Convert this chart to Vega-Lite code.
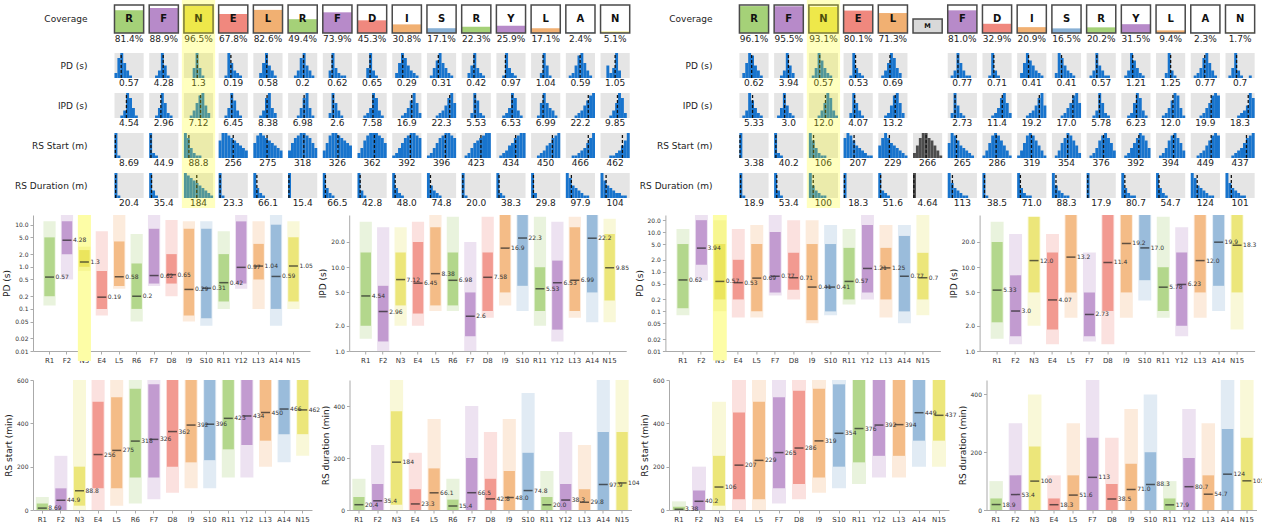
{
"$schema":"https://vega.github.io/schema/vega-lite/v6.json",
"padding":{"left":2,"top":0,"right":0,"bottom":0},
"config":{"font":"DejaVu Sans","view":{"stroke":null},
"axis":{"grid":false,"domainColor":"#aaa","tickColor":"#aaa","tickSize":3,"labelColor":"#333","labelFontSize":6,"titleFontSize":9,"titleFontWeight":"normal","titleColor":"#222","titlePadding":3,"labelPadding":2},
"axisX":{"labelFontSize":7,"labelAngle":0,"title":null}},
"datasets":{
"cov":[{"k":"a00","L":"R","cov":81.4,"p":"81.4%"},{"k":"a01","L":"F","cov":88.9,"p":"88.9%"},{"k":"a02","L":"N","cov":96.5,"p":"96.5%"},{"k":"a03","L":"E","cov":67.8,"p":"67.8%"},{"k":"a04","L":"L","cov":82.6,"p":"82.6%"},{"k":"a05","L":"R","cov":49.4,"p":"49.4%"},{"k":"a06","L":"F","cov":73.9,"p":"73.9%"},{"k":"a07","L":"D","cov":45.3,"p":"45.3%"},{"k":"a08","L":"I","cov":30.8,"p":"30.8%"},{"k":"a09","L":"S","cov":17.1,"p":"17.1%"},{"k":"a10","L":"R","cov":22.3,"p":"22.3%"},{"k":"a11","L":"Y","cov":25.9,"p":"25.9%"},{"k":"a12","L":"L","cov":17.1,"p":"17.1%"},{"k":"a13","L":"A","cov":2.4,"p":"2.4%"},{"k":"a14","L":"N","cov":5.1,"p":"5.1%"},
{"k":"b00","L":"R","cov":96.1,"p":"96.1%"},{"k":"b01","L":"F","cov":95.5,"p":"95.5%"},{"k":"b02","L":"N","cov":93.1,"p":"93.1%"},{"k":"b03","L":"E","cov":80.1,"p":"80.1%"},{"k":"b04","L":"L","cov":71.3,"p":"71.3%"},{"k":"b05","L":"M","cov":null,"p":""},{"k":"b06","L":"F","cov":81.0,"p":"81.0%"},{"k":"b07","L":"D","cov":32.9,"p":"32.9%"},{"k":"b08","L":"I","cov":20.9,"p":"20.9%"},{"k":"b09","L":"S","cov":16.5,"p":"16.5%"},{"k":"b10","L":"R","cov":20.2,"p":"20.2%"},{"k":"b11","L":"Y","cov":31.5,"p":"31.5%"},{"k":"b12","L":"L","cov":9.4,"p":"9.4%"},{"k":"b13","L":"A","cov":2.3,"p":"2.3%"},{"k":"b14","L":"N","cov":1.7,"p":"1.7%"}],
"hist":[
{"r":"PD","k":"a00","v":"0.57","m":2.3,"h":[2,8,10,6,3,1,0,0,0,0]},
{"r":"PD","k":"a01","v":"4.28","m":4.8,"h":[0,0,1,3,10,5,1,0,0,0]},
{"r":"PD","k":"a02","v":"1.3","m":4.6,"h":[0,0,0,4,10,4,1,0,0,0]},
{"r":"PD","k":"a03","v":"0.19","m":4.2,"h":[0,0,1,10,6,3,2,1,0,0]},
{"r":"PD","k":"a04","v":"0.58","m":4.6,"h":[0,0,2,6,10,5,3,1,0,0]},
{"r":"PD","k":"a05","v":"0.2","m":5.3,"h":[0,0,1,3,8,10,5,3,1,0]},
{"r":"PD","k":"a06","v":"0.62","m":3.2,"h":[0,0,3,10,4,2,1,1,0,0]},
{"r":"PD","k":"a07","v":"0.65","m":4.3,"h":[0,0,0,4,10,3,1,0,0,0]},
{"r":"PD","k":"a08","v":"0.29","m":3.6,"h":[0,2,6,10,8,5,3,2,1,0]},
{"r":"PD","k":"a09","v":"0.31","m":3.9,"h":[0,1,4,7,10,6,4,2,1,0]},
{"r":"PD","k":"a10","v":"0.42","m":4.2,"h":[0,0,2,5,10,4,2,1,0,0]},
{"r":"PD","k":"a11","v":"0.97","m":3.1,"h":[0,0,1,10,4,2,1,0,0,0]},
{"r":"PD","k":"a12","v":"1.04","m":4.1,"h":[0,0,0,2,10,5,1,0,0,0]},
{"r":"PD","k":"a13","v":"0.59","m":4.9,"h":[0,1,2,5,9,10,6,3,1,0]},
{"r":"PD","k":"a14","v":"1.05","m":5.0,"h":[0,0,5,2,4,10,3,0,0,0]},
{"r":"IPD","k":"a00","v":"4.54","m":4.1,"h":[0,0,1,3,10,8,4,1,0,0]},
{"r":"IPD","k":"a01","v":"2.96","m":4.0,"h":[0,0,1,4,10,6,2,1,0,0]},
{"r":"IPD","k":"a02","v":"7.12","m":5.7,"h":[0,0,1,3,6,9,10,5,2,0]},
{"r":"IPD","k":"a03","v":"6.45","m":4.5,"h":[0,0,1,4,10,7,3,1,0,0]},
{"r":"IPD","k":"a04","v":"8.38","m":4.7,"h":[0,0,1,3,8,10,4,2,0,0]},
{"r":"IPD","k":"a05","v":"6.98","m":5.5,"h":[0,0,0,1,4,8,10,4,1,0]},
{"r":"IPD","k":"a06","v":"2.6","m":3.6,"h":[0,0,2,10,6,3,1,0,0,0]},
{"r":"IPD","k":"a07","v":"7.58","m":5.3,"h":[0,0,1,2,4,10,8,3,1,0]},
{"r":"IPD","k":"a08","v":"16.9","m":6.7,"h":[0,0,0,1,2,4,7,10,6,2]},
{"r":"IPD","k":"a09","v":"22.3","m":7.8,"h":[0,0,0,1,2,3,5,8,10,6]},
{"r":"IPD","k":"a10","v":"5.53","m":4.6,"h":[0,0,0,2,10,7,2,1,0,0]},
{"r":"IPD","k":"a11","v":"6.53","m":5.4,"h":[0,0,1,2,4,10,8,3,1,0]},
{"r":"IPD","k":"a12","v":"6.99","m":4.1,"h":[0,0,1,6,10,6,4,3,1,0]},
{"r":"IPD","k":"a13","v":"22.2","m":7.7,"h":[0,0,0,1,2,3,5,7,9,10]},
{"r":"IPD","k":"a14","v":"9.85","m":5.8,"h":[0,0,0,1,3,6,10,8,2,0]},
{"r":"RSS","k":"a00","v":"8.69","m":0.3,"h":[10,1,0,0,0,0,0,0,0,0]},
{"r":"RSS","k":"a01","v":"44.9","m":0.6,"h":[10,2,1,0,0,0,0,0,0,0]},
{"r":"RSS","k":"a02","v":"88.8","m":1.7,"h":[10,8,4,2,1,1,0,0,0,0]},
{"r":"RSS","k":"a03","v":"256","m":5.0,"h":[7,10,10,9,8,7,6,5,4,3]},
{"r":"RSS","k":"a04","v":"275","m":4.7,"h":[6,9,10,9,8,7,6,5,4,3]},
{"r":"RSS","k":"a05","v":"318","m":5.4,"h":[3,6,8,9,10,10,9,8,6,4]},
{"r":"RSS","k":"a06","v":"326","m":5.2,"h":[3,6,9,10,10,9,8,7,6,5]},
{"r":"RSS","k":"a07","v":"362","m":5.8,"h":[2,4,7,9,10,10,10,9,8,6]},
{"r":"RSS","k":"a08","v":"392","m":6.2,"h":[1,2,4,6,8,9,10,10,9,8]},
{"r":"RSS","k":"a09","v":"396","m":6.3,"h":[1,2,4,6,8,9,10,10,9,8]},
{"r":"RSS","k":"a10","v":"423","m":6.6,"h":[0,1,2,4,6,7,8,9,10,10]},
{"r":"RSS","k":"a11","v":"434","m":6.6,"h":[0,1,2,3,5,6,8,9,10,10]},
{"r":"RSS","k":"a12","v":"450","m":7.3,"h":[0,0,1,2,3,5,6,8,9,10]},
{"r":"RSS","k":"a13","v":"466","m":7.7,"h":[0,0,1,1,2,3,4,6,8,10]},
{"r":"RSS","k":"a14","v":"462","m":7.5,"h":[0,0,0,1,1,2,3,5,7,10]},
{"r":"RSD","k":"a00","v":"20.4","m":0.4,"h":[10,1,0,0,0,0,0,0,0,0]},
{"r":"RSD","k":"a01","v":"35.4","m":0.8,"h":[10,3,1,0,0,0,0,0,0,0]},
{"r":"RSD","k":"a02","v":"184","m":4.4,"h":[10,9,8,7,6,5,4,3,2,1]},
{"r":"RSD","k":"a03","v":"23.3","m":0.5,"h":[10,1,0,0,0,0,0,0,0,0]},
{"r":"RSD","k":"a04","v":"66.1","m":1.2,"h":[10,4,2,1,0,0,0,0,0,0]},
{"r":"RSD","k":"a05","v":"15.4","m":0.3,"h":[10,0,0,0,0,0,0,0,0,0]},
{"r":"RSD","k":"a06","v":"66.5","m":0.9,"h":[10,4,2,1,0,0,0,0,0,0]},
{"r":"RSD","k":"a07","v":"42.8","m":0.9,"h":[10,3,1,0,0,0,0,0,0,0]},
{"r":"RSD","k":"a08","v":"48.0","m":1.0,"h":[10,4,2,1,0,0,0,0,0,0]},
{"r":"RSD","k":"a09","v":"74.8","m":1.2,"h":[10,5,3,2,1,0,0,0,0,0]},
{"r":"RSD","k":"a10","v":"20.0","m":0.4,"h":[10,1,0,0,0,0,0,0,0,0]},
{"r":"RSD","k":"a11","v":"38.3","m":0.9,"h":[10,2,1,0,0,0,0,0,0,0]},
{"r":"RSD","k":"a12","v":"29.8","m":0.8,"h":[10,2,0,0,0,0,0,0,0,0]},
{"r":"RSD","k":"a13","v":"97.9","m":1.9,"h":[10,8,5,4,3,2,1,1,0,0]},
{"r":"RSD","k":"a14","v":"104","m":1.9,"h":[10,7,5,4,3,2,2,1,1,0]},
{"r":"PD","k":"b00","v":"0.62","m":4.2,"h":[0,2,6,10,9,5,3,1,0,0]},
{"r":"PD","k":"b01","v":"3.94","m":4.9,"h":[0,0,1,3,10,5,2,0,0,0]},
{"r":"PD","k":"b02","v":"0.57","m":3.7,"h":[0,1,4,10,7,4,2,1,0,0]},
{"r":"PD","k":"b03","v":"0.53","m":4.1,"h":[0,0,1,10,4,2,1,0,0,0]},
{"r":"PD","k":"b04","v":"0.69","m":4.0,"h":[0,1,3,6,10,8,4,2,0,0]},
{"r":"PD","k":"b06","v":"0.77","m":3.5,"h":[0,1,3,10,6,3,1,1,0,0]},
{"r":"PD","k":"b07","v":"0.71","m":3.9,"h":[0,0,1,10,3,1,0,0,0,0]},
{"r":"PD","k":"b08","v":"0.41","m":3.9,"h":[0,2,6,10,7,5,3,2,1,0]},
{"r":"PD","k":"b09","v":"0.41","m":3.3,"h":[0,2,10,8,5,3,2,1,0,0]},
{"r":"PD","k":"b10","v":"0.57","m":3.5,"h":[0,1,3,10,5,3,1,1,0,0]},
{"r":"PD","k":"b11","v":"1.21","m":3.9,"h":[0,1,3,10,7,4,2,1,0,0]},
{"r":"PD","k":"b12","v":"1.25","m":5.0,"h":[0,0,0,2,10,3,1,0,0,0]},
{"r":"PD","k":"b13","v":"0.77","m":4.8,"h":[0,1,2,4,8,10,6,3,1,0]},
{"r":"PD","k":"b14","v":"0.7","m":3.8,"h":[0,1,4,10,3,1,0,0,1,0]},
{"r":"IPD","k":"b00","v":"5.33","m":4.5,"h":[0,1,3,10,7,4,2,1,0,0]},
{"r":"IPD","k":"b01","v":"3.0","m":3.6,"h":[0,1,4,10,5,2,1,0,0,0]},
{"r":"IPD","k":"b02","v":"12.0","m":5.7,"h":[0,0,0,1,3,6,10,8,3,1]},
{"r":"IPD","k":"b03","v":"4.07","m":3.8,"h":[0,0,2,10,6,3,1,0,0,0]},
{"r":"IPD","k":"b04","v":"13.2","m":5.8,"h":[0,0,1,2,5,9,10,6,2,0]},
{"r":"IPD","k":"b06","v":"2.73","m":2.5,"h":[0,2,10,5,2,1,0,0,0,0]},
{"r":"IPD","k":"b07","v":"11.4","m":6.8,"h":[0,0,0,1,2,4,8,10,6,2]},
{"r":"IPD","k":"b08","v":"19.2","m":7.6,"h":[0,0,0,1,2,3,5,8,10,5]},
{"r":"IPD","k":"b09","v":"17.0","m":7.2,"h":[0,0,0,1,2,4,6,9,10,6]},
{"r":"IPD","k":"b10","v":"5.78","m":4.4,"h":[0,0,1,3,10,6,2,1,0,0]},
{"r":"IPD","k":"b11","v":"6.23","m":5.2,"h":[0,0,1,2,6,10,8,3,1,0]},
{"r":"IPD","k":"b12","v":"12.0","m":5.8,"h":[0,0,1,2,4,7,10,9,4,1]},
{"r":"IPD","k":"b13","v":"19.9","m":7.0,"h":[0,0,0,1,2,4,6,9,10,9]},
{"r":"IPD","k":"b14","v":"18.3","m":7.8,"h":[0,0,0,0,1,2,3,5,10,8]},
{"r":"RSS","k":"b00","v":"3.38","m":0.2,"h":[10,0,0,0,0,0,0,0,0,0]},
{"r":"RSS","k":"b01","v":"40.2","m":0.6,"h":[10,2,1,0,0,0,0,0,0,0]},
{"r":"RSS","k":"b02","v":"106","m":1.6,"h":[10,7,4,2,1,1,0,0,0,0]},
{"r":"RSS","k":"b03","v":"207","m":3.6,"h":[8,10,9,7,5,4,3,2,1,1]},
{"r":"RSS","k":"b04","v":"229","m":3.8,"h":[5,8,10,8,6,5,4,3,2,1]},
{"r":"RSS","k":"b05","v":"266","m":4.5,"h":[2,5,8,10,10,8,7,5,3,1]},
{"r":"RSS","k":"b06","v":"265","m":3.0,"h":[6,10,9,7,5,4,3,2,1,0]},
{"r":"RSS","k":"b07","v":"286","m":4.7,"h":[1,3,6,9,10,9,7,5,3,1]},
{"r":"RSS","k":"b08","v":"319","m":4.9,"h":[1,3,6,9,10,9,7,5,3,1]},
{"r":"RSS","k":"b09","v":"354","m":5.4,"h":[0,1,3,6,8,10,9,7,5,2]},
{"r":"RSS","k":"b10","v":"376","m":5.8,"h":[0,1,2,4,7,9,10,8,6,3]},
{"r":"RSS","k":"b11","v":"392","m":6.0,"h":[0,1,2,4,6,8,10,9,7,4]},
{"r":"RSS","k":"b12","v":"394","m":6.0,"h":[0,1,2,4,7,9,10,8,6,3]},
{"r":"RSS","k":"b13","v":"449","m":7.0,"h":[0,0,1,2,3,5,7,9,10,9]},
{"r":"RSS","k":"b14","v":"437","m":7.2,"h":[0,0,1,2,3,4,6,8,9,10]},
{"r":"RSD","k":"b00","v":"18.9","m":0.4,"h":[10,1,0,0,0,0,0,0,0,0]},
{"r":"RSD","k":"b01","v":"53.4","m":0.9,"h":[10,3,1,0,0,0,0,0,0,0]},
{"r":"RSD","k":"b02","v":"100","m":1.5,"h":[10,5,3,2,1,1,0,0,0,0]},
{"r":"RSD","k":"b03","v":"18.3","m":0.3,"h":[10,0,0,0,0,0,0,0,0,0]},
{"r":"RSD","k":"b04","v":"51.6","m":0.8,"h":[10,3,2,1,0,0,0,0,0,0]},
{"r":"RSD","k":"b05","v":"4.64","m":0.3,"h":[10,0,0,0,0,0,0,0,0,0]},
{"r":"RSD","k":"b06","v":"113","m":1.6,"h":[10,6,4,3,2,1,1,0,0,0]},
{"r":"RSD","k":"b07","v":"38.5","m":0.7,"h":[10,1,0,0,0,0,0,0,0,0]},
{"r":"RSD","k":"b08","v":"71.0","m":1.1,"h":[10,4,2,1,1,0,0,0,0,0]},
{"r":"RSD","k":"b09","v":"88.3","m":1.4,"h":[10,5,3,2,1,1,0,0,0,0]},
{"r":"RSD","k":"b10","v":"17.9","m":0.4,"h":[10,0,0,0,0,0,0,0,0,0]},
{"r":"RSD","k":"b11","v":"80.7","m":1.2,"h":[10,4,2,1,1,0,0,0,0,0]},
{"r":"RSD","k":"b12","v":"54.7","m":1.0,"h":[10,4,2,1,0,0,0,0,0,0]},
{"r":"RSD","k":"b13","v":"124","m":2.2,"h":[10,8,5,4,3,2,1,1,0,0]},
{"r":"RSD","k":"b14","v":"101","m":2.0,"h":[10,6,4,3,2,1,1,0,0,0]}],
"labs":[{"r":"COV","k":"s1","lab":"Coverage"},{"r":"COV","k":"s4","lab":"Coverage"},{"r":"PD","k":"s1","lab":"PD (s)"},{"r":"PD","k":"s4","lab":"PD (s)"},{"r":"IPD","k":"s1","lab":"IPD (s)"},{"r":"IPD","k":"s4","lab":"IPD (s)"},{"r":"RSS","k":"s1","lab":"RS Start (m)"},{"r":"RSS","k":"s4","lab":"RS Start (m)"},{"r":"RSD","k":"s1","lab":"RS Duration (m)"},{"r":"RSD","k":"s4","lab":"RS Duration (m)"}],
"sPDL":[
{"c":"R1","L":"R","lo":0.12,"hi":12,"dlo":0.2,"dhi":5,"med":0.57,"v":"0.57"},
{"c":"F2","L":"F","lo":0.5,"hi":17,"dlo":2,"dhi":12,"med":4.28,"v":"4.28"},
{"c":"N3","L":"N","lo":0.8,"hi":3,"dlo":1.0,"dhi":2.5,"med":1.3,"v":"1.3"},
{"c":"E4","L":"E","lo":0.07,"hi":7,"dlo":0.1,"dhi":0.8,"med":0.19,"v":"0.19"},
{"c":"L5","L":"L","lo":0.3,"hi":17,"dlo":0.35,"dhi":4,"med":0.58,"v":"0.58"},
{"c":"R6","L":"R","lo":0.05,"hi":6,"dlo":0.1,"dhi":1.2,"med":0.2,"v":"0.2"},
{"c":"F7","L":"F","lo":0.35,"hi":17,"dlo":0.4,"dhi":8,"med":0.62,"v":"0.62"},
{"c":"D8","L":"D","lo":0.2,"hi":13,"dlo":0.4,"dhi":2,"med":0.65,"v":"0.65"},
{"c":"I9","L":"I","lo":0.05,"hi":12,"dlo":0.07,"dhi":8,"med":0.29,"v":"0.29"},
{"c":"S10","L":"S","lo":0.04,"hi":12,"dlo":0.06,"dhi":8,"med":0.31,"v":"0.31"},
{"c":"R11","L":"R","lo":0.1,"hi":7,"dlo":0.15,"dhi":2,"med":0.42,"v":"0.42"},
{"c":"Y12","L":"Y","lo":0.3,"hi":17,"dlo":0.4,"dhi":12,"med":0.97,"v":"0.97"},
{"c":"L13","L":"L","lo":0.1,"hi":12,"dlo":0.5,"dhi":3.5,"med":1.04,"v":"1.04"},
{"c":"A14","L":"A","lo":0.04,"hi":17,"dlo":0.1,"dhi":10,"med":0.59,"v":"0.59"},
{"c":"N15","L":"N","lo":0.1,"hi":12,"dlo":0.15,"dhi":5,"med":1.05,"v":"1.05"}],
"sIPDL":[
{"c":"R1","L":"R","lo":1.4,"hi":35,"dlo":2,"dhi":15,"med":4.54,"v":"4.54"},
{"c":"F2","L":"F","lo":1,"hi":30,"dlo":1.3,"dhi":6,"med":2.96,"v":"2.96"},
{"c":"N3","L":"N","lo":2,"hi":30,"dlo":3.5,"dhi":15,"med":7.12,"v":"7.12"},
{"c":"E4","L":"E","lo":2,"hi":35,"dlo":2.8,"dhi":20,"med":6.45,"v":"6.45"},
{"c":"L5","L":"L","lo":3,"hi":42,"dlo":3.5,"dhi":30,"med":8.38,"v":"8.38"},
{"c":"R6","L":"R","lo":3,"hi":40,"dlo":3.5,"dhi":15,"med":6.98,"v":"6.98"},
{"c":"F7","L":"F","lo":1,"hi":20,"dlo":1.5,"dhi":5,"med":2.6,"v":"2.6"},
{"c":"D8","L":"D","lo":2.5,"hi":40,"dlo":3,"dhi":15,"med":7.58,"v":"7.58"},
{"c":"I9","L":"I","lo":3.5,"hi":42,"dlo":5,"dhi":42,"med":16.9,"v":"16.9"},
{"c":"S10","L":"S","lo":3,"hi":42,"dlo":6,"dhi":42,"med":22.3,"v":"22.3"},
{"c":"R11","L":"R","lo":2,"hi":40,"dlo":3,"dhi":10,"med":5.53,"v":"5.53"},
{"c":"Y12","L":"Y","lo":1.3,"hi":35,"dlo":1.8,"dhi":12,"med":6.53,"v":"6.53"},
{"c":"L13","L":"L","lo":2.5,"hi":40,"dlo":3,"dhi":30,"med":6.99,"v":"6.99"},
{"c":"A14","L":"A","lo":2.2,"hi":42,"dlo":5,"dhi":42,"med":22.2,"v":"22.2"},
{"c":"N15","L":"N","lo":2.2,"hi":38,"dlo":4,"dhi":25,"med":9.85,"v":"9.85"}],
"sPDR":[
{"c":"R1","L":"R","lo":0.08,"hi":12,"dlo":0.12,"dhi":5,"med":0.62,"v":"0.62"},
{"c":"F2","L":"F","lo":0.6,"hi":27,"dlo":1.5,"dhi":20,"med":3.94,"v":"3.94"},
{"c":"N3","L":"N","lo":0.1,"hi":20,"dlo":0.2,"dhi":5,"med":0.57,"v":"0.57"},
{"c":"E4","L":"E","lo":0.07,"hi":12,"dlo":0.2,"dhi":2,"med":0.53,"v":"0.53"},
{"c":"L5","L":"L","lo":0.07,"hi":15,"dlo":0.1,"dhi":5,"med":0.69,"v":"0.69"},
{"c":"F7","L":"F","lo":0.25,"hi":27,"dlo":0.3,"dhi":10,"med":0.77,"v":"0.77"},
{"c":"D8","L":"D","lo":0.2,"hi":20,"dlo":0.35,"dhi":3,"med":0.71,"v":"0.71"},
{"c":"I9","L":"I","lo":0.05,"hi":20,"dlo":0.06,"dhi":5,"med":0.41,"v":"0.41"},
{"c":"S10","L":"S","lo":0.08,"hi":15,"dlo":0.1,"dhi":5,"med":0.41,"v":"0.41"},
{"c":"R11","L":"R","lo":0.15,"hi":12,"dlo":0.2,"dhi":4,"med":0.57,"v":"0.57"},
{"c":"Y12","L":"Y","lo":0.2,"hi":27,"dlo":0.3,"dhi":15,"med":1.21,"v":"1.21"},
{"c":"L13","L":"L","lo":0.07,"hi":15,"dlo":0.2,"dhi":4,"med":1.25,"v":"1.25"},
{"c":"A14","L":"A","lo":0.05,"hi":15,"dlo":0.1,"dhi":8,"med":0.77,"v":"0.77"},
{"c":"N15","L":"N","lo":0.08,"hi":27,"dlo":0.2,"dhi":3,"med":0.7,"v":"0.7"}],
"sIPDR":[
{"c":"R1","L":"R","lo":1.4,"hi":35,"dlo":2.2,"dhi":20,"med":5.33,"v":"5.33"},
{"c":"F2","L":"F","lo":1.2,"hi":25,"dlo":1.5,"dhi":8,"med":3.0,"v":"3.0"},
{"c":"N3","L":"N","lo":2,"hi":40,"dlo":5,"dhi":40,"med":12.0,"v":"12.0"},
{"c":"E4","L":"E","lo":1.2,"hi":25,"dlo":1.8,"dhi":15,"med":4.07,"v":"4.07"},
{"c":"L5","L":"L","lo":2.5,"hi":42,"dlo":5,"dhi":42,"med":13.2,"v":"13.2"},
{"c":"F7","L":"F","lo":1.3,"hi":15,"dlo":1.5,"dhi":5,"med":2.73,"v":"2.73"},
{"c":"D8","L":"D","lo":1.2,"hi":42,"dlo":3,"dhi":42,"med":11.4,"v":"11.4"},
{"c":"I9","L":"I","lo":2.5,"hi":42,"dlo":5,"dhi":42,"med":19.2,"v":"19.2"},
{"c":"S10","L":"S","lo":4,"hi":42,"dlo":7,"dhi":42,"med":17.0,"v":"17.0"},
{"c":"R11","L":"R","lo":2.5,"hi":40,"dlo":3,"dhi":10,"med":5.78,"v":"5.78"},
{"c":"Y12","L":"Y","lo":1.5,"hi":30,"dlo":2,"dhi":15,"med":6.23,"v":"6.23"},
{"c":"L13","L":"L","lo":2.5,"hi":42,"dlo":5,"dhi":42,"med":12.0,"v":"12.0"},
{"c":"A14","L":"A","lo":3,"hi":42,"dlo":6,"dhi":42,"med":19.9,"v":"19.9"},
{"c":"N15","L":"N","lo":1.8,"hi":42,"dlo":5,"dhi":42,"med":18.3,"v":"18.3"}],
"sRSSL":[
{"c":"R1","L":"R","lo":0,"hi":60,"dlo":0,"dhi":30,"med":8.69,"v":"8.69"},
{"c":"F2","L":"F","lo":0,"hi":250,"dlo":0,"dhi":100,"med":44.9,"v":"44.9"},
{"c":"N3","L":"N","lo":0,"hi":600,"dlo":20,"dhi":200,"med":88.8,"v":"88.8"},
{"c":"E4","L":"E","lo":0,"hi":600,"dlo":100,"dhi":500,"med":256,"v":"256"},
{"c":"L5","L":"L","lo":20,"hi":600,"dlo":100,"dhi":520,"med":275,"v":"275"},
{"c":"R6","L":"R","lo":30,"hi":600,"dlo":150,"dhi":560,"med":318,"v":"318"},
{"c":"F7","L":"F","lo":50,"hi":600,"dlo":150,"dhi":580,"med":326,"v":"326"},
{"c":"D8","L":"D","lo":80,"hi":600,"dlo":200,"dhi":600,"med":362,"v":"362"},
{"c":"I9","L":"I","lo":100,"hi":600,"dlo":220,"dhi":600,"med":392,"v":"392"},
{"c":"S10","L":"S","lo":100,"hi":600,"dlo":230,"dhi":600,"med":396,"v":"396"},
{"c":"R11","L":"R","lo":150,"hi":600,"dlo":280,"dhi":600,"med":423,"v":"423"},
{"c":"Y12","L":"Y","lo":150,"hi":600,"dlo":300,"dhi":600,"med":434,"v":"434"},
{"c":"L13","L":"L","lo":200,"hi":600,"dlo":320,"dhi":600,"med":450,"v":"450"},
{"c":"A14","L":"A","lo":220,"hi":600,"dlo":350,"dhi":600,"med":466,"v":"466"},
{"c":"N15","L":"N","lo":250,"hi":600,"dlo":350,"dhi":600,"med":462,"v":"462"}],
"sRSDL":[
{"c":"R1","L":"R","lo":0,"hi":120,"dlo":0,"dhi":50,"med":20.4,"v":"20.4"},
{"c":"F2","L":"F","lo":0,"hi":250,"dlo":0,"dhi":100,"med":35.4,"v":"35.4"},
{"c":"N3","L":"N","lo":0,"hi":500,"dlo":20,"dhi":380,"med":184,"v":"184"},
{"c":"E4","L":"E","lo":0,"hi":220,"dlo":0,"dhi":80,"med":23.3,"v":"23.3"},
{"c":"L5","L":"L","lo":0,"hi":350,"dlo":0,"dhi":160,"med":66.1,"v":"66.1"},
{"c":"R6","L":"R","lo":0,"hi":120,"dlo":0,"dhi":40,"med":15.4,"v":"15.4"},
{"c":"F7","L":"F","lo":0,"hi":400,"dlo":0,"dhi":200,"med":66.5,"v":"66.5"},
{"c":"D8","L":"D","lo":0,"hi":300,"dlo":0,"dhi":120,"med":42.8,"v":"42.8"},
{"c":"I9","L":"I","lo":0,"hi":350,"dlo":0,"dhi":150,"med":48.0,"v":"48.0"},
{"c":"S10","L":"S","lo":0,"hi":450,"dlo":0,"dhi":220,"med":74.8,"v":"74.8"},
{"c":"R11","L":"R","lo":0,"hi":150,"dlo":0,"dhi":50,"med":20.0,"v":"20.0"},
{"c":"Y12","L":"Y","lo":0,"hi":300,"dlo":0,"dhi":100,"med":38.3,"v":"38.3"},
{"c":"L13","L":"L","lo":0,"hi":250,"dlo":0,"dhi":80,"med":29.8,"v":"29.8"},
{"c":"A14","L":"A","lo":0,"hi":500,"dlo":0,"dhi":300,"med":97.9,"v":"97.9"},
{"c":"N15","L":"N","lo":0,"hi":500,"dlo":0,"dhi":300,"med":104,"v":"104"}],
"sRSSR":[
{"c":"R1","L":"R","lo":0,"hi":40,"dlo":0,"dhi":15,"med":3.38,"v":"3.38"},
{"c":"F2","L":"F","lo":0,"hi":200,"dlo":0,"dhi":90,"med":40.2,"v":"40.2"},
{"c":"N3","L":"N","lo":0,"hi":500,"dlo":20,"dhi":250,"med":106,"v":"106"},
{"c":"E4","L":"E","lo":0,"hi":600,"dlo":50,"dhi":450,"med":207,"v":"207"},
{"c":"L5","L":"L","lo":0,"hi":600,"dlo":50,"dhi":500,"med":229,"v":"229"},
{"c":"F7","L":"F","lo":30,"hi":600,"dlo":100,"dhi":520,"med":265,"v":"265"},
{"c":"D8","L":"D","lo":50,"hi":600,"dlo":120,"dhi":550,"med":286,"v":"286"},
{"c":"I9","L":"I","lo":80,"hi":600,"dlo":150,"dhi":560,"med":319,"v":"319"},
{"c":"S10","L":"S","lo":100,"hi":600,"dlo":200,"dhi":580,"med":354,"v":"354"},
{"c":"R11","L":"R","lo":120,"hi":600,"dlo":220,"dhi":600,"med":376,"v":"376"},
{"c":"Y12","L":"Y","lo":150,"hi":600,"dlo":250,"dhi":600,"med":392,"v":"392"},
{"c":"L13","L":"L","lo":150,"hi":600,"dlo":250,"dhi":600,"med":394,"v":"394"},
{"c":"A14","L":"A","lo":200,"hi":600,"dlo":320,"dhi":600,"med":449,"v":"449"},
{"c":"N15","L":"N","lo":200,"hi":600,"dlo":320,"dhi":600,"med":437,"v":"437"}],
"sRSDR":[
{"c":"R1","L":"R","lo":0,"hi":100,"dlo":0,"dhi":40,"med":18.9,"v":"18.9"},
{"c":"F2","L":"F","lo":0,"hi":300,"dlo":0,"dhi":120,"med":53.4,"v":"53.4"},
{"c":"N3","L":"N","lo":0,"hi":400,"dlo":0,"dhi":220,"med":100,"v":"100"},
{"c":"E4","L":"E","lo":0,"hi":120,"dlo":0,"dhi":40,"med":18.3,"v":"18.3"},
{"c":"L5","L":"L","lo":0,"hi":300,"dlo":0,"dhi":120,"med":51.6,"v":"51.6"},
{"c":"F7","L":"F","lo":0,"hi":450,"dlo":0,"dhi":250,"med":113,"v":"113"},
{"c":"D8","L":"D","lo":0,"hi":250,"dlo":0,"dhi":90,"med":38.5,"v":"38.5"},
{"c":"I9","L":"I","lo":0,"hi":350,"dlo":0,"dhi":160,"med":71.0,"v":"71.0"},
{"c":"S10","L":"S","lo":0,"hi":400,"dlo":0,"dhi":200,"med":88.3,"v":"88.3"},
{"c":"R11","L":"R","lo":0,"hi":100,"dlo":0,"dhi":40,"med":17.9,"v":"17.9"},
{"c":"Y12","L":"Y","lo":0,"hi":350,"dlo":0,"dhi":180,"med":80.7,"v":"80.7"},
{"c":"L13","L":"L","lo":0,"hi":300,"dlo":0,"dhi":120,"med":54.7,"v":"54.7"},
{"c":"A14","L":"A","lo":0,"hi":450,"dlo":0,"dhi":280,"med":124,"v":"124"},
{"c":"N15","L":"N","lo":0,"hi":450,"dlo":0,"dhi":250,"med":101,"v":"101"}]
},
"vconcat":[
{"vconcat":[
{"vconcat":[
{"width":1233.7,"height":48,"layer":[
{"data":{"name":"cov"},"transform":[{"filter":"datum.L != 'M'"}],"mark":{"type":"bar","fillOpacity":0.8},"encoding":{"x":{"field":"k","type":"nominal","scale":{"domain":["s0","s1","a00","a01","a02","a03","a04","a05","a06","a07","a08","a09","a10","a11","a12","a13","a14","s2","s3","s4","b00","b01","b02","b03","b04","b05","b06","b07","b08","b09","b10","b11","b12","b13","b14"],"paddingInner":0.16,"paddingOuter":0.347},"axis":null},"y":{"field":"cov","type":"quantitative","scale":{"domain":[-53.6,117.9],"nice":false,"zero":false},"axis":null},"y2":{"datum":0},"color":{"field":"L","type":"nominal","legend":null,"scale":{"domain":["R","F","N","E","L","D","I","S","Y","A"],"range":["#8fc556","#a56dbb","#e3da3c","#ec6a5e","#ee9c4f","#ec6a5e","#ee9c4f","#6a9cca","#a56dbb","#6a9cca"]}}}},
{"data":{"name":"cov"},"transform":[{"filter":"datum.L != 'M'"}],"mark":{"type":"bar","fill":"transparent","stroke":"#4a4a4a","strokeWidth":1.5},"encoding":{"x":{"field":"k","type":"nominal"},"y":{"datum":100,"type":"quantitative"},"y2":{"datum":0}}},
{"data":{"name":"cov"},"transform":[{"filter":"datum.L == 'M'"}],"mark":{"type":"bar","fill":"#d9d9d9","stroke":"#4a4a4a","strokeWidth":1.5},"encoding":{"x":{"field":"k","type":"nominal"},"y":{"datum":50,"type":"quantitative"},"y2":{"datum":0}}},
{"data":{"name":"cov"},"transform":[{"filter":"datum.L != 'M'"}],"mark":{"type":"text","fontWeight":"bold","fontSize":10,"baseline":"middle","color":"#111"},"encoding":{"x":{"field":"k","type":"nominal"},"y":{"datum":50,"type":"quantitative"},"text":{"field":"L"}}},
{"data":{"name":"cov"},"transform":[{"filter":"datum.L == 'M'"}],"mark":{"type":"text","fontWeight":"bold","fontSize":6.5,"baseline":"middle","color":"#111"},"encoding":{"x":{"field":"k","type":"nominal"},"y":{"datum":25,"type":"quantitative"},"text":{"field":"L"}}},
{"data":{"name":"cov"},"mark":{"type":"text","baseline":"top","fontSize":9,"color":"#222"},"encoding":{"x":{"field":"k","type":"nominal"},"y":{"datum":-7,"type":"quantitative"},"text":{"field":"p"}}},
{"data":{"name":"labs"},"transform":[{"filter":"datum.r == 'COV'"}],"mark":{"type":"text","align":"right","baseline":"middle","fontSize":9,"color":"#222"},"encoding":{"x":{"field":"k","type":"nominal","bandPosition":0.265},"y":{"datum":50,"type":"quantitative"},"text":{"field":"lab"}}},
{"data":{"name":"cov"},"transform":[{"filter":"datum.k == 'a02' || datum.k == 'b02'"}],"mark":{"type":"bar","color":"#ffff00","opacity":0.25,"width":{"band":1.14}},"encoding":{"x":{"field":"k","type":"nominal"},"y":{"datum":-53.6,"type":"quantitative"},"y2":{"datum":117.9}}}
]},
{"width":1233.7,"height":40,"layer":[
{"data":{"name":"hist"},"transform":[{"filter":"datum.r == 'PD'"}],"mark":{"type":"bar","color":"#e5e5e5"},"encoding":{"x":{"field":"k","type":"nominal","scale":{"domain":["s0","s1","a00","a01","a02","a03","a04","a05","a06","a07","a08","a09","a10","a11","a12","a13","a14","s2","s3","s4","b00","b01","b02","b03","b04","b05","b06","b07","b08","b09","b10","b11","b12","b13","b14"],"paddingInner":0.16,"paddingOuter":0.347},"axis":null},"y":{"datum":0,"type":"quantitative","scale":{"domain":[-4,12],"nice":false,"zero":false},"axis":null},"y2":{"datum":10}}},
{"data":{"name":"hist"},"transform":[{"filter":"datum.r == 'PD'"},{"flatten":["h"],"as":["hv"]},{"window":[{"op":"row_number","as":"b"}],"groupby":["k"]}],"mark":{"type":"bar"},"encoding":{"x":{"field":"k","type":"nominal"},"xOffset":{"field":"b","type":"ordinal","scale":{"domain":[1,2,3,4,5,6,7,8,9,10],"paddingInner":0,"paddingOuter":0}},"y":{"field":"hv","type":"quantitative"},"y2":{"datum":0},"color":{"condition":{"test":"datum.k == 'b05'","value":"#4d4d4d"},"value":"#1874cd"}}},
{"data":{"name":"hist"},"transform":[{"filter":"datum.r == 'PD'"}],"mark":{"type":"rule","color":"#111","strokeDash":[3,2],"strokeWidth":1.3},"encoding":{"x":{"field":"k","type":"nominal"},"xOffset":{"field":"m","type":"quantitative","scale":{"domain":[0,10],"range":[0,29.16]}},"y":{"datum":0,"type":"quantitative"},"y2":{"datum":10}}},
{"data":{"name":"hist"},"transform":[{"filter":"datum.r == 'PD'"}],"mark":{"type":"text","baseline":"top","fontSize":9,"color":"#222"},"encoding":{"x":{"field":"k","type":"nominal"},"y":{"datum":-0.3,"type":"quantitative"},"text":{"field":"v"}}},
{"data":{"name":"labs"},"transform":[{"filter":"datum.r == 'PD'"}],"mark":{"type":"text","align":"right","baseline":"middle","fontSize":9,"color":"#222"},"encoding":{"x":{"field":"k","type":"nominal","bandPosition":0.265},"y":{"datum":5,"type":"quantitative"},"text":{"field":"lab"}}},
{"data":{"name":"hist"},"transform":[{"filter":"datum.r == 'PD'"},{"filter":"datum.k == 'a02' || datum.k == 'b02'"}],"mark":{"type":"bar","color":"#ffff00","opacity":0.25,"width":{"band":1.14}},"encoding":{"x":{"field":"k","type":"nominal"},"y":{"datum":-4,"type":"quantitative"},"y2":{"datum":12}}}
],"resolve":{"scale":{"xOffset":"independent"}}},
{"width":1233.7,"height":40,"layer":[
{"data":{"name":"hist"},"transform":[{"filter":"datum.r == 'IPD'"}],"mark":{"type":"bar","color":"#e5e5e5"},"encoding":{"x":{"field":"k","type":"nominal","scale":{"domain":["s0","s1","a00","a01","a02","a03","a04","a05","a06","a07","a08","a09","a10","a11","a12","a13","a14","s2","s3","s4","b00","b01","b02","b03","b04","b05","b06","b07","b08","b09","b10","b11","b12","b13","b14"],"paddingInner":0.16,"paddingOuter":0.347},"axis":null},"y":{"datum":0,"type":"quantitative","scale":{"domain":[-4,12],"nice":false,"zero":false},"axis":null},"y2":{"datum":10}}},
{"data":{"name":"hist"},"transform":[{"filter":"datum.r == 'IPD'"},{"flatten":["h"],"as":["hv"]},{"window":[{"op":"row_number","as":"b"}],"groupby":["k"]}],"mark":{"type":"bar"},"encoding":{"x":{"field":"k","type":"nominal"},"xOffset":{"field":"b","type":"ordinal","scale":{"domain":[1,2,3,4,5,6,7,8,9,10],"paddingInner":0,"paddingOuter":0}},"y":{"field":"hv","type":"quantitative"},"y2":{"datum":0},"color":{"condition":{"test":"datum.k == 'b05'","value":"#4d4d4d"},"value":"#1874cd"}}},
{"data":{"name":"hist"},"transform":[{"filter":"datum.r == 'IPD'"}],"mark":{"type":"rule","color":"#111","strokeDash":[3,2],"strokeWidth":1.3},"encoding":{"x":{"field":"k","type":"nominal"},"xOffset":{"field":"m","type":"quantitative","scale":{"domain":[0,10],"range":[0,29.16]}},"y":{"datum":0,"type":"quantitative"},"y2":{"datum":10}}},
{"data":{"name":"hist"},"transform":[{"filter":"datum.r == 'IPD'"}],"mark":{"type":"text","baseline":"top","fontSize":9,"color":"#222"},"encoding":{"x":{"field":"k","type":"nominal"},"y":{"datum":-0.3,"type":"quantitative"},"text":{"field":"v"}}},
{"data":{"name":"labs"},"transform":[{"filter":"datum.r == 'IPD'"}],"mark":{"type":"text","align":"right","baseline":"middle","fontSize":9,"color":"#222"},"encoding":{"x":{"field":"k","type":"nominal","bandPosition":0.265},"y":{"datum":5,"type":"quantitative"},"text":{"field":"lab"}}},
{"data":{"name":"hist"},"transform":[{"filter":"datum.r == 'IPD'"},{"filter":"datum.k == 'a02' || datum.k == 'b02'"}],"mark":{"type":"bar","color":"#ffff00","opacity":0.25,"width":{"band":1.14}},"encoding":{"x":{"field":"k","type":"nominal"},"y":{"datum":-4,"type":"quantitative"},"y2":{"datum":12}}}
],"resolve":{"scale":{"xOffset":"independent"}}},
{"width":1233.7,"height":40,"layer":[
{"data":{"name":"hist"},"transform":[{"filter":"datum.r == 'RSS'"}],"mark":{"type":"bar","color":"#e5e5e5"},"encoding":{"x":{"field":"k","type":"nominal","scale":{"domain":["s0","s1","a00","a01","a02","a03","a04","a05","a06","a07","a08","a09","a10","a11","a12","a13","a14","s2","s3","s4","b00","b01","b02","b03","b04","b05","b06","b07","b08","b09","b10","b11","b12","b13","b14"],"paddingInner":0.16,"paddingOuter":0.347},"axis":null},"y":{"datum":0,"type":"quantitative","scale":{"domain":[-4,12],"nice":false,"zero":false},"axis":null},"y2":{"datum":10}}},
{"data":{"name":"hist"},"transform":[{"filter":"datum.r == 'RSS'"},{"flatten":["h"],"as":["hv"]},{"window":[{"op":"row_number","as":"b"}],"groupby":["k"]}],"mark":{"type":"bar"},"encoding":{"x":{"field":"k","type":"nominal"},"xOffset":{"field":"b","type":"ordinal","scale":{"domain":[1,2,3,4,5,6,7,8,9,10],"paddingInner":0,"paddingOuter":0}},"y":{"field":"hv","type":"quantitative"},"y2":{"datum":0},"color":{"condition":{"test":"datum.k == 'b05'","value":"#4d4d4d"},"value":"#1874cd"}}},
{"data":{"name":"hist"},"transform":[{"filter":"datum.r == 'RSS'"}],"mark":{"type":"rule","color":"#111","strokeDash":[3,2],"strokeWidth":1.3},"encoding":{"x":{"field":"k","type":"nominal"},"xOffset":{"field":"m","type":"quantitative","scale":{"domain":[0,10],"range":[0,29.16]}},"y":{"datum":0,"type":"quantitative"},"y2":{"datum":10}}},
{"data":{"name":"hist"},"transform":[{"filter":"datum.r == 'RSS'"}],"mark":{"type":"text","baseline":"top","fontSize":9,"color":"#222"},"encoding":{"x":{"field":"k","type":"nominal"},"y":{"datum":-0.3,"type":"quantitative"},"text":{"field":"v"}}},
{"data":{"name":"labs"},"transform":[{"filter":"datum.r == 'RSS'"}],"mark":{"type":"text","align":"right","baseline":"middle","fontSize":9,"color":"#222"},"encoding":{"x":{"field":"k","type":"nominal","bandPosition":0.265},"y":{"datum":5,"type":"quantitative"},"text":{"field":"lab"}}},
{"data":{"name":"hist"},"transform":[{"filter":"datum.r == 'RSS'"},{"filter":"datum.k == 'a02' || datum.k == 'b02'"}],"mark":{"type":"bar","color":"#ffff00","opacity":0.25,"width":{"band":1.14}},"encoding":{"x":{"field":"k","type":"nominal"},"y":{"datum":-4,"type":"quantitative"},"y2":{"datum":12}}}
],"resolve":{"scale":{"xOffset":"independent"}}},
{"width":1233.7,"height":40,"layer":[
{"data":{"name":"hist"},"transform":[{"filter":"datum.r == 'RSD'"}],"mark":{"type":"bar","color":"#e5e5e5"},"encoding":{"x":{"field":"k","type":"nominal","scale":{"domain":["s0","s1","a00","a01","a02","a03","a04","a05","a06","a07","a08","a09","a10","a11","a12","a13","a14","s2","s3","s4","b00","b01","b02","b03","b04","b05","b06","b07","b08","b09","b10","b11","b12","b13","b14"],"paddingInner":0.16,"paddingOuter":0.347},"axis":null},"y":{"datum":0,"type":"quantitative","scale":{"domain":[-4,12],"nice":false,"zero":false},"axis":null},"y2":{"datum":10}}},
{"data":{"name":"hist"},"transform":[{"filter":"datum.r == 'RSD'"},{"flatten":["h"],"as":["hv"]},{"window":[{"op":"row_number","as":"b"}],"groupby":["k"]}],"mark":{"type":"bar"},"encoding":{"x":{"field":"k","type":"nominal"},"xOffset":{"field":"b","type":"ordinal","scale":{"domain":[1,2,3,4,5,6,7,8,9,10],"paddingInner":0,"paddingOuter":0}},"y":{"field":"hv","type":"quantitative"},"y2":{"datum":0},"color":{"condition":{"test":"datum.k == 'b05'","value":"#4d4d4d"},"value":"#1874cd"}}},
{"data":{"name":"hist"},"transform":[{"filter":"datum.r == 'RSD'"}],"mark":{"type":"rule","color":"#111","strokeDash":[3,2],"strokeWidth":1.3},"encoding":{"x":{"field":"k","type":"nominal"},"xOffset":{"field":"m","type":"quantitative","scale":{"domain":[0,10],"range":[0,29.16]}},"y":{"datum":0,"type":"quantitative"},"y2":{"datum":10}}},
{"data":{"name":"hist"},"transform":[{"filter":"datum.r == 'RSD'"}],"mark":{"type":"text","baseline":"top","fontSize":9,"color":"#222"},"encoding":{"x":{"field":"k","type":"nominal"},"y":{"datum":-0.3,"type":"quantitative"},"text":{"field":"v"}}},
{"data":{"name":"labs"},"transform":[{"filter":"datum.r == 'RSD'"}],"mark":{"type":"text","align":"right","baseline":"middle","fontSize":9,"color":"#222"},"encoding":{"x":{"field":"k","type":"nominal","bandPosition":0.265},"y":{"datum":5,"type":"quantitative"},"text":{"field":"lab"}}},
{"data":{"name":"hist"},"transform":[{"filter":"datum.r == 'RSD'"},{"filter":"datum.k == 'a02' || datum.k == 'b02'"}],"mark":{"type":"bar","color":"#ffff00","opacity":0.25,"width":{"band":1.14}},"encoding":{"x":{"field":"k","type":"nominal"},"y":{"datum":-4,"type":"quantitative"},"y2":{"datum":12}}}
],"resolve":{"scale":{"xOffset":"independent"}}}
],"spacing":0,"bounds":"flush"},
{"hconcat":[
{"width":277,"height":136,"data":{"name":"sPDL"},"encoding":{"x":{"field":"c","type":"nominal","scale":{"domain":["R1","F2","N3","E4","L5","R6","F7","D8","I9","S10","R11","Y12","L13","A14","N15"],"paddingInner":0,"paddingOuter":0.45}}},"layer":[
{"transform":[{"filter":"datum.c == 'N3'"}],"mark":{"type":"bar","color":"#fdfda6","width":{"band":0.75}},"encoding":{"y":{"datum":0.0058,"type":"quantitative","title":"PD (s)","scale":{"type":"log","domain":[0.01,17],"nice":false},"axis":{"values":[0.01,0.02,0.05,0.1,0.2,0.5,1,2,5,10],"labelExpr":"datum.value >= 1 ? format(datum.value, '.1f') : format(datum.value, '.2~f')"}},"y2":{"datum":17}}},
{"mark":{"type":"bar","opacity":0.2,"width":{"band":0.7}},"encoding":{"y":{"field":"lo","type":"quantitative","title":"PD (s)"},"y2":{"field":"hi"},"color":{"field":"L","type":"nominal","legend":null}}},
{"mark":{"type":"bar","opacity":0.6,"width":{"band":0.6}},"encoding":{"y":{"field":"dlo","type":"quantitative","title":"PD (s)"},"y2":{"field":"dhi"},"color":{"field":"L","type":"nominal","legend":null}}},
{"mark":{"type":"tick","color":"#222","thickness":1.5,"size":9},"encoding":{"y":{"field":"med","type":"quantitative","title":"PD (s)"}}},
{"mark":{"type":"text","align":"left","dx":6,"fontSize":6,"color":"#333"},"encoding":{"y":{"field":"med","type":"quantitative","title":"PD (s)"},"text":{"field":"v"}}}
]},
{"width":277,"height":136,"data":{"name":"sIPDL"},"encoding":{"x":{"field":"c","type":"nominal","scale":{"domain":["R1","F2","N3","E4","L5","R6","F7","D8","I9","S10","R11","Y12","L13","A14","N15"],"paddingInner":0,"paddingOuter":0.45}}},"layer":[
{"mark":{"type":"bar","opacity":0.2,"width":{"band":0.7}},"encoding":{"y":{"field":"lo","type":"quantitative","title":"IPD (s)","scale":{"type":"log","domain":[1,42],"nice":false},"axis":{"values":[1,2,5,10,20],"format":".1f"}},"y2":{"field":"hi"},"color":{"field":"L","type":"nominal","legend":null}}},
{"mark":{"type":"bar","opacity":0.6,"width":{"band":0.6}},"encoding":{"y":{"field":"dlo","type":"quantitative","title":"IPD (s)"},"y2":{"field":"dhi"},"color":{"field":"L","type":"nominal","legend":null}}},
{"mark":{"type":"tick","color":"#222","thickness":1.5,"size":9},"encoding":{"y":{"field":"med","type":"quantitative","title":"IPD (s)"}}},
{"mark":{"type":"text","align":"left","dx":6,"fontSize":6,"color":"#333"},"encoding":{"y":{"field":"med","type":"quantitative","title":"IPD (s)"},"text":{"field":"v"}}}
]},
{"width":275,"height":136,"data":{"name":"sPDR"},"encoding":{"x":{"field":"c","type":"nominal","scale":{"domain":["R1","F2","N3","E4","L5","F7","D8","I9","S10","R11","Y12","L13","A14","N15"],"paddingInner":0,"paddingOuter":0.45}}},"layer":[
{"transform":[{"filter":"datum.c == 'N3'"}],"mark":{"type":"bar","color":"#fdfda6","width":{"band":0.75}},"encoding":{"y":{"datum":0.0058,"type":"quantitative","title":"PD (s)","scale":{"type":"log","domain":[0.01,27],"nice":false},"axis":{"values":[0.01,0.02,0.05,0.1,0.2,0.5,1,2,5,10,20],"labelExpr":"datum.value >= 1 ? format(datum.value, '.1f') : format(datum.value, '.2~f')"}},"y2":{"datum":27}}},
{"mark":{"type":"bar","opacity":0.2,"width":{"band":0.7}},"encoding":{"y":{"field":"lo","type":"quantitative","title":"PD (s)"},"y2":{"field":"hi"},"color":{"field":"L","type":"nominal","legend":null}}},
{"mark":{"type":"bar","opacity":0.6,"width":{"band":0.6}},"encoding":{"y":{"field":"dlo","type":"quantitative","title":"PD (s)"},"y2":{"field":"dhi"},"color":{"field":"L","type":"nominal","legend":null}}},
{"mark":{"type":"tick","color":"#222","thickness":1.5,"size":9},"encoding":{"y":{"field":"med","type":"quantitative","title":"PD (s)"}}},
{"mark":{"type":"text","align":"left","dx":6,"fontSize":6,"color":"#333"},"encoding":{"y":{"field":"med","type":"quantitative","title":"PD (s)"},"text":{"field":"v"}}}
]},
{"width":275,"height":136,"data":{"name":"sIPDR"},"encoding":{"x":{"field":"c","type":"nominal","scale":{"domain":["R1","F2","N3","E4","L5","F7","D8","I9","S10","R11","Y12","L13","A14","N15"],"paddingInner":0,"paddingOuter":0.45}}},"layer":[
{"mark":{"type":"bar","opacity":0.2,"width":{"band":0.7}},"encoding":{"y":{"field":"lo","type":"quantitative","title":"IPD (s)","scale":{"type":"log","domain":[1,42],"nice":false},"axis":{"values":[1,2,5,10,20],"format":".1f"}},"y2":{"field":"hi"},"color":{"field":"L","type":"nominal","legend":null}}},
{"mark":{"type":"bar","opacity":0.6,"width":{"band":0.6}},"encoding":{"y":{"field":"dlo","type":"quantitative","title":"IPD (s)"},"y2":{"field":"dhi"},"color":{"field":"L","type":"nominal","legend":null}}},
{"mark":{"type":"tick","color":"#222","thickness":1.5,"size":9},"encoding":{"y":{"field":"med","type":"quantitative","title":"IPD (s)"}}},
{"mark":{"type":"text","align":"left","dx":6,"fontSize":6,"color":"#333"},"encoding":{"y":{"field":"med","type":"quantitative","title":"IPD (s)"},"text":{"field":"v"}}}
]}
],"spacing":39.2,"bounds":"flush"}
],"spacing":7},
{"hconcat":[
{"width":279,"height":130,"data":{"name":"sRSSL"},"encoding":{"x":{"field":"c","type":"nominal","scale":{"domain":["R1","F2","N3","E4","L5","R6","F7","D8","I9","S10","R11","Y12","L13","A14","N15"],"paddingInner":0,"paddingOuter":0}}},"layer":[
{"mark":{"type":"bar","opacity":0.2,"width":{"band":0.7}},"encoding":{"y":{"field":"lo","type":"quantitative","title":"RS start (min)","scale":{"domain":[0,600],"nice":false},"axis":{"values":[0,50,100,150,200,250,300,350,400,450,500,550,600]}},"y2":{"field":"hi"},"color":{"field":"L","type":"nominal","legend":null}}},
{"mark":{"type":"bar","opacity":0.6,"width":{"band":0.6}},"encoding":{"y":{"field":"dlo","type":"quantitative","title":"RS start (min)"},"y2":{"field":"dhi"},"color":{"field":"L","type":"nominal","legend":null}}},
{"mark":{"type":"tick","color":"#222","thickness":1.5,"size":9},"encoding":{"y":{"field":"med","type":"quantitative","title":"RS start (min)"}}},
{"mark":{"type":"text","align":"left","dx":6,"fontSize":6,"color":"#333"},"encoding":{"y":{"field":"med","type":"quantitative","title":"RS start (min)"},"text":{"field":"v"}}}
]},
{"width":282,"height":130,"data":{"name":"sRSDL"},"encoding":{"x":{"field":"c","type":"nominal","scale":{"domain":["R1","F2","N3","E4","L5","R6","F7","D8","I9","S10","R11","Y12","L13","A14","N15"],"paddingInner":0,"paddingOuter":0}}},"layer":[
{"mark":{"type":"bar","opacity":0.2,"width":{"band":0.7}},"encoding":{"y":{"field":"lo","type":"quantitative","title":"RS duration (min)","scale":{"domain":[0,500],"nice":false},"axis":{"values":[0,50,100,150,200,250,300,350,400,450,500]}},"y2":{"field":"hi"},"color":{"field":"L","type":"nominal","legend":null}}},
{"mark":{"type":"bar","opacity":0.6,"width":{"band":0.6}},"encoding":{"y":{"field":"dlo","type":"quantitative","title":"RS duration (min)"},"y2":{"field":"dhi"},"color":{"field":"L","type":"nominal","legend":null}}},
{"mark":{"type":"tick","color":"#222","thickness":1.5,"size":9},"encoding":{"y":{"field":"med","type":"quantitative","title":"RS duration (min)"}}},
{"mark":{"type":"text","align":"left","dx":6,"fontSize":6,"color":"#333"},"encoding":{"y":{"field":"med","type":"quantitative","title":"RS duration (min)"},"text":{"field":"v"}}}
]},
{"width":280,"height":130,"data":{"name":"sRSSR"},"encoding":{"x":{"field":"c","type":"nominal","scale":{"domain":["R1","F2","N3","E4","L5","F7","D8","I9","S10","R11","Y12","L13","A14","N15"],"paddingInner":0,"paddingOuter":0}}},"layer":[
{"mark":{"type":"bar","opacity":0.2,"width":{"band":0.7}},"encoding":{"y":{"field":"lo","type":"quantitative","title":"RS start (min)","scale":{"domain":[0,600],"nice":false},"axis":{"values":[0,50,100,150,200,250,300,350,400,450,500,550,600]}},"y2":{"field":"hi"},"color":{"field":"L","type":"nominal","legend":null}}},
{"mark":{"type":"bar","opacity":0.6,"width":{"band":0.6}},"encoding":{"y":{"field":"dlo","type":"quantitative","title":"RS start (min)"},"y2":{"field":"dhi"},"color":{"field":"L","type":"nominal","legend":null}}},
{"mark":{"type":"tick","color":"#222","thickness":1.5,"size":9},"encoding":{"y":{"field":"med","type":"quantitative","title":"RS start (min)"}}},
{"mark":{"type":"text","align":"left","dx":6,"fontSize":6,"color":"#333"},"encoding":{"y":{"field":"med","type":"quantitative","title":"RS start (min)"},"text":{"field":"v"}}}
]},
{"width":270,"height":130,"data":{"name":"sRSDR"},"encoding":{"x":{"field":"c","type":"nominal","scale":{"domain":["R1","F2","N3","E4","L5","F7","D8","I9","S10","R11","Y12","L13","A14","N15"],"paddingInner":0,"paddingOuter":0}}},"layer":[
{"mark":{"type":"bar","opacity":0.2,"width":{"band":0.7}},"encoding":{"y":{"field":"lo","type":"quantitative","title":"RS duration (min)","scale":{"domain":[0,450],"nice":false},"axis":{"values":[0,50,100,150,200,250,300,350,400,450]}},"y2":{"field":"hi"},"color":{"field":"L","type":"nominal","legend":null}}},
{"mark":{"type":"bar","opacity":0.6,"width":{"band":0.6}},"encoding":{"y":{"field":"dlo","type":"quantitative","title":"RS duration (min)"},"y2":{"field":"dhi"},"color":{"field":"L","type":"nominal","legend":null}}},
{"mark":{"type":"tick","color":"#222","thickness":1.5,"size":9},"encoding":{"y":{"field":"med","type":"quantitative","title":"RS duration (min)"}}},
{"mark":{"type":"text","align":"left","dx":6,"fontSize":6,"color":"#333"},"encoding":{"y":{"field":"med","type":"quantitative","title":"RS duration (min)"},"text":{"field":"v"}}}
]}
],"spacing":37.5,"bounds":"flush"}
],"spacing":14}
